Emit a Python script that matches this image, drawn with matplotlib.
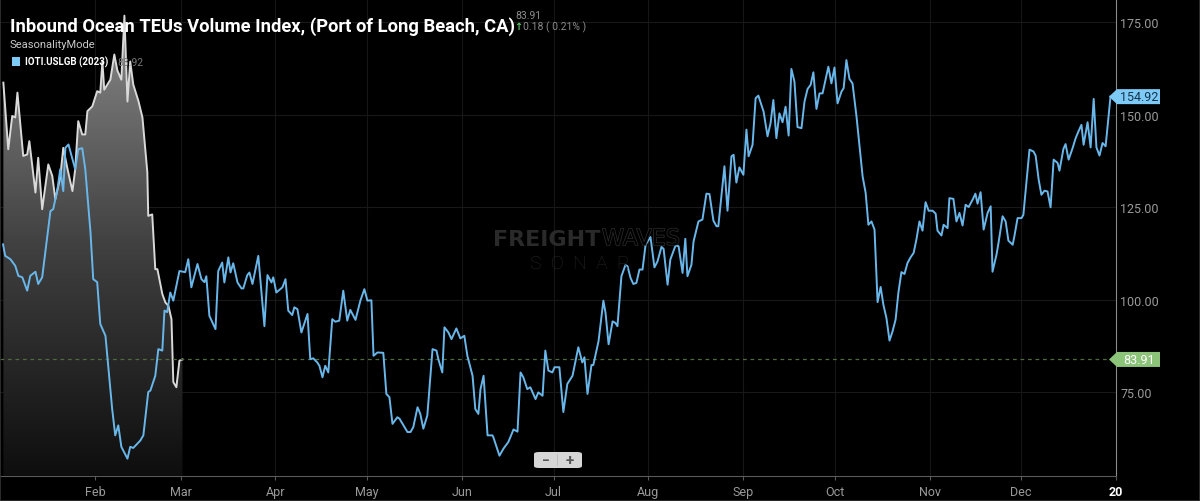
import datetime as dt
import numpy as np
import matplotlib
matplotlib.use("Agg")
import matplotlib.pyplot as plt
import matplotlib.patheffects as pe
from matplotlib.colors import LinearSegmentedColormap
from matplotlib.patches import Polygon, FancyBboxPatch, Rectangle
from matplotlib.transforms import IdentityTransform

plt.rcParams['font.family'] = ['Roboto', 'DejaVu Sans']

# IOTI.USLGB 2023 : jour depuis le 1er janvier, valeur de l'indice
blue_day = [0.9, 1.6, 3.3, 4.9, 5.9, 7.2, 8.8, 9.8, 11.5, 12.4, 13.7, 15.4, 16.4, 17.3, 18.7, 19.6,
            20.6, 21.3, 22.3, 23.6, 24.5, 25.5, 26.8, 27.8, 29.5, 30.4, 31.7, 32.7, 34.4, 35.3, 36.6,
            37.6, 38.6, 39.6, 41.6, 42.5, 43.5, 45.8, 46.8, 48.4,
            49.1, 50.7, 51.7, 53.0, 53.7, 54.6, 55.6, 56.6, 58.6, 60.5, 61.5, 62.5, 64.5, 65.8, 66.8,
            67.4, 68.4, 70.4, 71.3, 72.6, 73.3, 74.6, 75.3, 76.2, 77.6, 78.9, 79.5, 80.8, 81.5, 82.5,
            84.4, 86.4, 87.4, 88.7, 89.3, 90.3, 92.3, 93.3, 94.2, 95.5, 96.2, 97.2, 98.5, 100.5, 101.4,
            102.4, 103.7, 104.4, 105.4, 106.3, 107.3, 108.6, 109.6, 110.9, 112.2, 113.5, 114.5, 116.2,
            117.8, 119.1, 120.1, 121.4, 122.1, 123.4, 125.3, 126.3, 127.3, 128.3, 129.9, 130.6, 133.2,
            134.2, 135.1, 136.5, 137.4, 138.4, 139.7, 141.4, 142.7, 143.3, 144.6, 145.3, 146.6, 147.6,
            149.2, 150.5, 151.8, 152.8, 154.5, 155.4, 156.4, 157.1, 158.1, 159.4, 161.0, 161.3, 163.3,
            164.6, 166.2, 167.9, 169.2, 170.2, 171.1, 172.4, 173.4, 175.1, 176.0, 177.4, 178.3, 179.3,
            180.6, 181.3, 182.9, 184.2, 185.5, 187.2, 189.1, 190.4, 191.1, 192.1,
            193.4, 194.0, 195.7, 197.3, 198.0, 199.0, 200.3, 201.2, 201.9, 203.2, 204.5, 205.2, 206.2,
            207.1, 208.1, 209.1, 210.1, 211.1, 212.7, 214.0, 215.0, 216.3, 217.0, 218.3, 219.2, 220.9,
            221.9, 223.2, 224.1, 224.8, 226.1, 226.8, 228.4, 229.7, 231.0, 232.0, 233.3, 234.3, 234.9,
            236.9, 237.9, 239.2, 239.9, 240.8, 241.8, 243.1, 244.1, 244.8, 246.1, 247.1, 248.0, 249.7,
            251.0, 252.0, 252.9, 253.9, 254.9, 255.9, 256.9, 257.9, 258.8, 259.8, 260.8, 262.1, 263.1,
            264.1, 265.1, 266.0, 267.0, 268.0, 269.0, 269.6, 270.9, 271.9, 272.9, 273.9, 275.2, 275.9,
            276.8, 277.8, 278.8, 280.1, 282.1, 283.1, 284.0, 285.0, 286.0, 287.0, 288.0,
            288.9, 289.9, 290.9, 291.9, 292.9, 293.8, 294.8, 295.8, 296.8, 297.8, 298.8, 299.7, 300.7,
            301.7, 302.7, 303.7, 305.0, 306.0, 306.6, 307.9, 308.6, 309.9, 310.5, 311.8, 312.8, 313.8,
            314.8, 315.8, 316.8, 318.1, 319.0, 319.7, 320.7, 321.7, 323.0, 324.0, 324.6, 325.9, 326.6,
            327.9, 328.9, 329.8, 331.2, 331.8, 332.8, 334.1, 334.7, 336.7, 338.0, 338.7, 339.7, 340.6,
            341.6, 342.6, 343.6, 344.6, 345.9, 346.5, 347.8, 348.5, 349.5, 350.8, 351.8, 352.7, 353.7,
            354.4, 355.7, 356.7, 357.7, 358.6, 359.6, 360.6, 361.6, 363.2]
blue_val = [115.0, 111.9, 111.0, 109.2, 106.5, 106.1, 102.5, 106.5, 107.6, 104.3, 106.1, 117.3, 124.0,
            124.5, 129.9, 135.3, 129.4, 141.1, 142.0, 138.0, 135.3, 140.7, 141.0, 135.3, 118.3, 105.6,
            104.8, 93.5, 90.3, 82.2, 70.5, 63.4, 66.1, 60.3, 57.1, 60.3, 60.0, 62.0, 63.4, 75.1,
            75.5, 79.5, 86.7, 86.3, 97.1, 96.7, 102.0, 99.8, 107.8, 107.5, 111.0, 103.4, 109.7, 105.6,
            104.8, 106.4, 95.7, 92.1, 107.8, 110.1, 104.7, 111.5, 107.4, 109.9, 104.7, 103.1, 103.1,
            106.7, 107.4, 104.3, 111.9, 92.9, 106.7, 104.7, 106.1, 102.0, 103.4, 105.6, 97.1, 95.9,
            98.0, 97.5, 91.2, 96.2, 84.0, 84.2, 83.1, 82.2, 79.1, 82.2, 80.4, 94.8, 94.1, 94.4, 102.5,
            94.4, 97.3, 94.6, 99.8, 102.9, 99.8, 99.9, 84.9, 85.8, 85.7, 74.6, 73.7, 66.5, 68.3, 67.9,
            64.3, 64.3, 65.6, 71.0, 69.2, 65.2, 68.8, 86.7, 86.3, 84.0, 80.4, 92.6, 91.2, 89.4, 92.3,
            89.6, 90.3, 84.9, 79.5, 70.5, 69.2, 75.9, 79.5, 63.4, 63.4, 62.9, 57.9, 59.8, 61.6, 65.0,
            64.4, 80.4, 79.1, 75.9, 76.4, 73.2, 75.0, 74.1, 86.3, 80.9, 80.4, 81.8, 81.8, 69.7, 77.3,
            79.5, 87.2, 83.1, 84.5, 74.6,
            82.4, 82.4, 88.8, 99.8, 96.5, 88.0, 94.2, 93.8, 92.9, 106.4, 109.4, 109.1, 105.9, 104.3,
            104.6, 108.2, 108.2, 114.9, 117.0, 108.8, 110.4, 114.3, 113.8, 104.1, 110.9, 114.7, 114.5,
            107.3, 116.5, 106.4, 109.5, 115.8, 121.2, 121.7, 128.7, 128.6, 121.4, 119.9, 119.9, 136.1,
            124.1, 138.8, 139.2, 131.7, 135.8, 133.8, 146.0, 138.8, 141.9, 154.5, 155.2, 150.9, 144.2,
            147.8, 154.0, 143.7, 150.4, 148.0, 152.2, 144.4, 162.4, 159.0, 146.7, 146.4, 153.6, 157.0,
            158.1, 161.5, 151.6, 155.8, 155.8, 158.1, 163.0, 158.5, 162.8, 153.1, 156.3, 157.2, 164.8,
            159.7, 158.5, 149.6, 133.4, 128.9, 120.3, 121.2, 119.0, 99.4, 103.5,
            98.7, 95.1, 89.0, 91.5, 94.7, 101.9, 107.5, 107.0, 110.0, 111.5, 112.7, 116.3, 121.2,
            118.7, 126.4, 124.1, 124.1, 123.3, 118.7, 117.4, 120.3, 119.4, 127.5, 127.3, 121.2, 123.5,
            120.1, 125.7, 125.1, 127.1, 128.7, 126.0, 129.1, 119.0, 123.5, 125.3, 107.6, 112.2, 115.6,
            122.6, 121.2, 116.0, 114.9, 117.4, 122.1, 122.1, 123.0, 140.6, 140.1, 139.0, 132.5, 128.4,
            129.5, 129.3, 125.0, 137.9, 137.0, 134.9, 140.8, 142.1, 137.9, 141.0, 143.7, 145.5, 147.3,
            141.9, 148.0, 141.2, 154.3, 141.2, 139.0, 142.4, 141.5, 154.92]

# serie de l'annee en cours (mode saisonnalite), janvier-fevrier
white_day = [1.0, 2.6, 3.9, 4.9, 5.6, 7.5, 8.8, 9.5, 11.5, 12.4, 13.7, 15.7, 17.0, 18.0, 19.6, 20.6,
             21.9, 23.6, 24.5, 25.5, 26.8, 27.8, 28.5, 30.1, 31.7, 32.7, 33.4, 34.0, 36.0, 37.3, 38.3,
             39.6, 40.6, 41.6, 42.5, 43.5, 45.2, 46.5, 48.1, 48.4, 49.7, 50.7, 51.4, 53.0, 54.0, 55.0,
             56.0, 56.6, 57.6, 58.6, 59.6]
white_val = [158.7, 140.7, 149.7, 149.3, 156.0, 138.9, 139.3, 142.9, 129.0, 138.4, 124.5, 136.6, 133.5,
             127.2, 133.1, 141.1, 135.7, 129.4, 135.3, 148.3, 144.7, 144.7, 151.0, 152.3, 156.4, 156.0,
             164.4, 156.8, 159.5, 166.3, 162.0, 159.5, 176.8, 153.6, 164.4, 158.2, 153.7, 149.3, 134.5,
             122.7, 123.1, 108.3, 108.3, 101.6, 99.3, 98.4, 94.8, 77.8, 76.4, 83.6, 83.91]

month_labels = ['Feb', 'Mar', 'Apr', 'May', 'Jun', 'Jul', 'Aug', 'Sep', 'Oct', 'Nov', 'Dec', '20']
month_days = [(dt.date(2023, m, 1) - dt.date(2023, 1, 1)).days for m in range(2, 13)] + [365]
y_ticks = [75, 100, 125, 150, 175]

last_blue = blue_val[-1]
last_white = white_val[-1]
legend_white = 83.92

W, H = 1200, 502
fig = plt.figure(figsize=(W / 100, H / 100), dpi=100, facecolor='black')
ax = fig.add_axes([0, 25.3 / H, 1116 / W, 476.7 / H])
ax.set_facecolor('black')
ax.set_xlim(-0.1, 365)
ax.set_ylim(52.5, 181.3)

# grille tres discrete
for d in month_days[:-1]:
    ax.axvline(d, color='#161616', lw=0.8, zorder=0)
for t in y_ticks:
    ax.axhline(t, color='#181818', lw=0.8, zorder=0)

# remplissage degrade sous la serie blanche
ymin = ax.get_ylim()[0]
poly = ax.fill_between(white_day, white_val, ymin, color='none', lw=0)
cmap = LinearSegmentedColormap.from_list('g', ['#8a8a8a', '#404040', '#0e0e0e'])
grad = np.linspace(0, 1, 256).reshape(-1, 1)
img = ax.imshow(grad, cmap=cmap, aspect='auto', origin='upper',
                extent=[white_day[0] - 1.0, white_day[-1], ymin, max(white_val)], zorder=1)
img.set_clip_path(poly.get_paths()[0], transform=ax.transData)

ax.plot(white_day, white_val, color='#d9d9d9', lw=1.4, zorder=2)
ax.plot(blue_day, blue_val, color='#69b7ea', lw=1.4, zorder=3)
ax.axhline(last_white, color='#4d6b3c', lw=0.9, ls=(0, (3, 3)), zorder=2)

# axes
for s in ['top', 'left']:
    ax.spines[s].set_visible(False)
ax.spines['right'].set_color('#8a8a8a')
ax.spines['bottom'].set_color('#5a5a5a')
ax.yaxis.tick_right()
ax.set_yticks(y_ticks)
ax.set_yticklabels(['%.2f' % t for t in y_ticks])
ax.tick_params(axis='y', length=0, pad=3, colors='#9a9a9a', labelsize=9)
ax.set_xticks(month_days)
ax.set_xticklabels(month_labels)
ax.tick_params(axis='x', length=3, color='#5a5a5a', colors='#9a9a9a', labelsize=9, pad=4)
lbl = ax.get_xticklabels()[-1]
lbl.set_color('white')
lbl.set_fontweight('bold')

# etiquettes de derniere valeur
def tag(val, txt, face, tcolor):
    yp = ax.transData.transform((0, val))[1]
    pts = [(1109, yp), (1117, yp + 7.5), (1160, yp + 7.5), (1160, yp - 7.5), (1117, yp - 7.5)]
    fig.add_artist(Polygon(pts, closed=True, facecolor=face, edgecolor='none',
                           transform=IdentityTransform()))
    fig.text(1139 / W, yp / H, txt, color=tcolor, fontsize=9, ha='center', va='center')

tag(last_blue, '%.2f' % last_blue, '#7ecaf6', '#16324a')
tag(last_white, '%.2f' % last_white, '#8cc47a', 'white')

# titre et legende
fig.text(10 / W, 1 - 27 / H, 'Inbound Ocean TEUs Volume Index, (Port of Long Beach, CA)',
         color='white', fontsize=13.2, fontweight='bold', va='center', ha='left')
fig.text(515 / W, 1 - 16 / H, '%.2f' % last_white, color='#8a8a8a', fontsize=7.5, va='center')
fig.text(514 / W, 1 - 27 / H, '↑', color='#5cc86a', fontsize=7, va='center', fontweight='bold')
fig.text(523 / W, 1 - 27 / H, '0.18 ( 0.21% )', color='#8a8a8a', fontsize=7.5, va='center')
fig.text(10 / W, 1 - 45 / H, 'SeasonalityMode', color='#c8c8c8', fontsize=8, va='center')
fig.add_artist(Rectangle((12 / W, 1 - 67 / H), 8 / W, 9 / H, facecolor='#7ecaf6',
                         transform=fig.transFigure))
fig.text(25 / W, 1 - 62.5 / H, 'IOTI.USLGB (2023)', color='white', fontsize=7,
         fontweight='bold', va='center')
fig.text(117 / W, 1 - 62.5 / H, '%.2f' % legend_white, color='#777777', fontsize=7.5, va='center')

# filigrane
fig.add_artist(Rectangle((459 / W, 1 - 247 / H), 15 / W, 13 / H, facecolor='#2a2a2a',
                         transform=fig.transFigure, zorder=0))
fig.text(600 / W, 1 - 240 / H, 'FREIGHT', color='#2a2a2a', fontsize=16, fontweight='bold',
         family='DejaVu Sans', va='center', ha='right', zorder=0)
fig.text(602 / W, 1 - 240 / H, 'WAVES', color='black', fontsize=16, family='DejaVu Sans',
         va='center', ha='left', zorder=0,
         path_effects=[pe.withStroke(linewidth=1.0, foreground='#2e2e2e')])
fig.text(580 / W, 1 - 264 / H, 'S  O  N  A  R', color='#262626', fontsize=14, va='center',
         ha='center', fontweight='light', zorder=0)

# bouton de zoom
fig.add_artist(FancyBboxPatch((534 / W, 1 - 469 / H), 48 / W, 16 / H,
                              boxstyle='round,pad=0,rounding_size=0.004',
                              facecolor='#d6d6d6', edgecolor='none', transform=fig.transFigure))
fig.add_artist(Rectangle((557 / W, 1 - 467 / H), 1 / W, 12 / H, facecolor='#bdbdbd',
                         transform=fig.transFigure))
fig.text(546 / W, 1 - 461 / H, '−', color='#555555', fontsize=10, ha='center', va='center',
         fontweight='bold')
fig.text(570 / W, 1 - 461 / H, '+', color='#555555', fontsize=11, ha='center', va='center',
         fontweight='bold')

fig.add_artist(Rectangle((0, 0), 1, 1, facecolor='none', edgecolor='#333333', lw=1.2,
                         transform=fig.transFigure))

fig.savefig('out.png', dpi=100, facecolor='black')
